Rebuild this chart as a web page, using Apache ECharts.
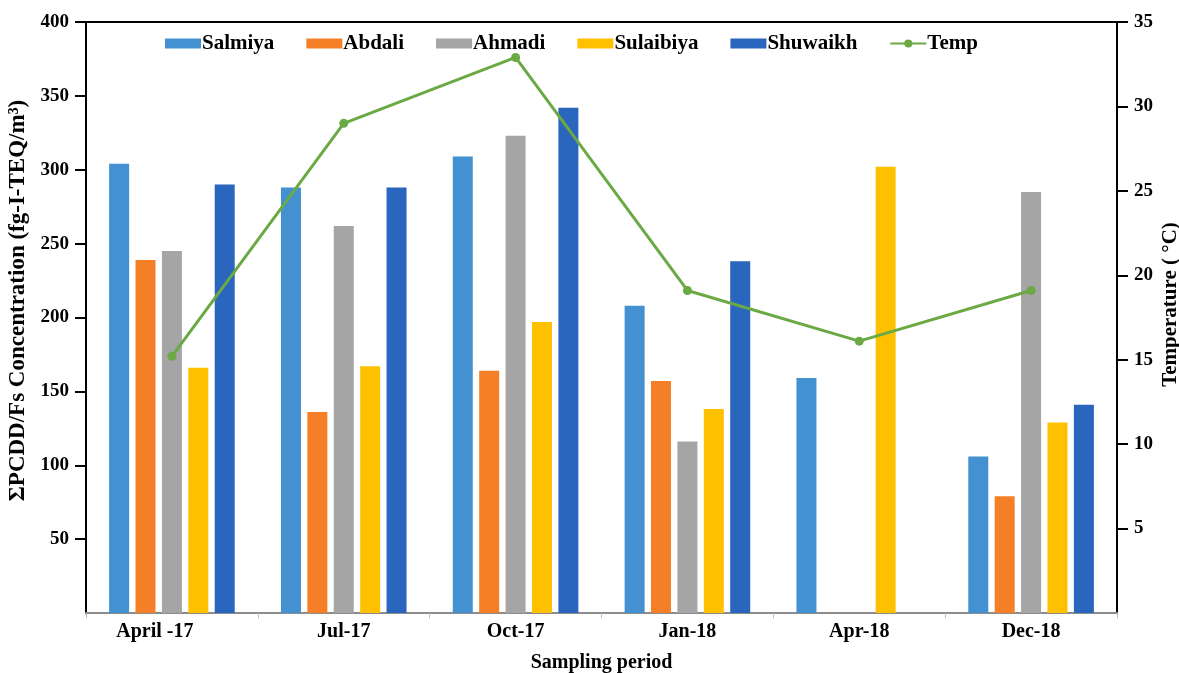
<!DOCTYPE html>
<html>
<head>
<meta charset="utf-8">
<script src="https://cdn.jsdelivr.net/npm/echarts@6/dist/echarts.min.js"></script>
<style>
  html, body { margin: 0; padding: 0; background: #fff; }
  #chart { width: 1179px; height: 673px; }
</style>
</head>
<body>
<div id="chart"></div>
<script>
// sampling periods
var periods = ['April -17', 'Jul-17', 'Oct-17', 'Jan-18', 'Apr-18', 'Dec-18']

// ΣPCDD/Fs concentration per site (fg-I-TEQ/m3)
var salmiya = [304, 288, 309, 208, 159, 106]
var abdali = [239, 136, 164, 157, null, 79]
var ahmadi = [245, 262, 323, 116, null, 285]
var sulaibiya = [166, 167, 197, 138, 302, 129]
var shuwaikh = [290, 288, 342, 238, null, 141]

// temperature (°C)
var temp = [15.2, 29.0, 32.9, 19.1, 16.1, 19.1]

// tick labels (0 is left unlabelled on both sides)
var concTicks = [50, 100, 150, 200, 250, 300, 350, 400]
var tempTicks = [5, 10, 15, 20, 25, 30, 35]

var serif = '"Liberation Serif", "DejaVu Serif", serif'

function barSeries (name, data, color) {
  return {
    name: name,
    type: 'bar',
    data: data,
    barWidth: 20,
    barGap: '32%',
    itemStyle: { color: color }
  }
}

// shared look of both value axes
function valueAxis (ticks, extra) {
  var ax = {
    type: 'value',
    min: 0,
    max: ticks[ticks.length - 1],
    interval: ticks[0],
    nameLocation: 'middle',
    axisLine: { show: true, lineStyle: { color: '#000', width: 2 } },
    axisTick: { show: true, length: 11, customValues: ticks, lineStyle: { color: '#000', width: 2 } },
    splitLine: { show: false },
    axisLabel: {
      customValues: ticks,
      fontFamily: serif,
      fontWeight: 'bold',
      fontSize: 19,
      color: '#000',
      margin: 17
    }
  }
  return Object.assign(ax, extra)
}

var chart = echarts.init(document.getElementById('chart'))
chart.setOption({
  animation: false,
  textStyle: { fontFamily: serif },
  grid: {
    left: 86,
    right: 62,
    top: 22,
    bottom: 60,
    outerBoundsMode: 'none',
    show: true,
    borderColor: '#000',
    borderWidth: 2
  },
  legend: {
    top: 33,
    left: 165,
    padding: 0,
    itemWidth: 36,
    itemHeight: 10,
    itemGap: 32,
    textStyle: { fontFamily: serif, fontWeight: 'bold', fontSize: 21, color: '#000', padding: [0, 0, 0, -4] },
    data: [
      { name: 'Salmiya', icon: 'rect' },
      { name: 'Abdali', icon: 'rect' },
      { name: 'Ahmadi', icon: 'rect' },
      { name: 'Sulaibiya', icon: 'rect' },
      { name: 'Shuwaikh', icon: 'rect' },
      { name: 'Temp' }
    ]
  },
  xAxis: {
    type: 'category',
    // first label sits a bit left of its slot in the original
    data: periods.map(function (p, i) {
      return i === 0 ? { value: p, textStyle: { padding: [0, 34, 0, 0] } } : p
    }),
    name: 'Sampling period',
    nameLocation: 'middle',
    nameGap: 40,
    nameTextStyle: { fontFamily: serif, fontWeight: 'bold', fontSize: 20, color: '#000', verticalAlign: 'top' },
    axisLine: { lineStyle: { color: '#8c8c8c', width: 2 } },
    axisTick: { show: true, length: 5, lineStyle: { color: '#bbb' } },
    axisLabel: { fontFamily: serif, fontWeight: 'bold', fontSize: 20, color: '#000', margin: 9 }
  },
  yAxis: [
    valueAxis(concTicks, {
      name: 'ΣPCDD/Fs Concentration (fg-I-TEQ/m³)',
      nameGap: 52,
      nameTextStyle: { fontFamily: serif, fontWeight: 'bold', fontSize: 23, color: '#000', padding: [0, 0, 0, 34] }
    }),
    valueAxis(tempTicks, {
      position: 'right',
      name: 'Temperature ( °C)',
      nameGap: 43,
      nameRotate: 90,
      nameMoveOverlap: false,
      nameTextStyle: { fontFamily: serif, fontWeight: 'bold', fontSize: 21, color: '#000', padding: [0, 0, 0, 26] }
    })
  ],
  series: [
    barSeries('Salmiya', salmiya, '#4391D0'),
    barSeries('Abdali', abdali, '#F47F27'),
    barSeries('Ahmadi', ahmadi, '#A5A5A5'),
    barSeries('Sulaibiya', sulaibiya, '#FFC000'),
    barSeries('Shuwaikh', shuwaikh, '#2A65BE'),
    {
      name: 'Temp',
      type: 'line',
      yAxisIndex: 1,
      data: temp,
      symbol: 'circle',
      symbolSize: 9,
      lineStyle: { color: '#6AA943', width: 3 },
      itemStyle: { color: '#6AA943' }
    }
  ]
})
</script>
</body>
</html>
